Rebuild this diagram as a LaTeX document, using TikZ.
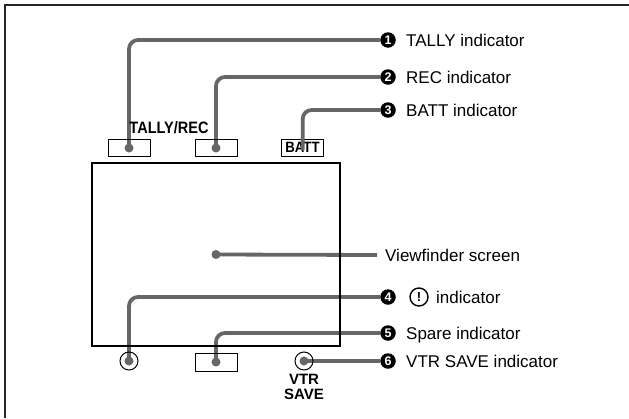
\documentclass[tikz,border=0pt]{standalone}
\usepackage{fontspec}
\setmainfont{Liberation Sans}
\newfontfamily\condbold[FakeStretch=0.88]{Liberation Sans Bold}
\usetikzlibrary{backgrounds}
\definecolor{leadgray}{HTML}{666666}
\begin{document}
\begin{tikzpicture}[x=1pt,y=-1pt,
  lead/.style={draw=leadgray, line width=3.8pt, rounded corners=9pt},
  tipdot/.style={circle, fill=leadgray, inner sep=0pt, minimum size=9pt},
  bul/.style={circle, fill=black, text=white, inner sep=0pt, minimum size=15.5pt, font=\bfseries\fontsize{12.5}{12.5}\selectfont},
  lbl/.style={anchor=west, inner sep=0pt, text height=12.2pt, text depth=0pt, font=\fontsize{17}{19}\selectfont},
  lampbox/.style={draw, line width=1pt, minimum width=42pt, minimum height=17pt, inner sep=0pt},
  lampring/.style={draw, circle, line width=1pt, minimum size=18pt, inner sep=0pt},
  tag/.style={font=\bfseries\fontsize{15}{15.5}\selectfont, inner sep=0pt}
]
\useasboundingbox (0,0) rectangle (629,418);
\draw[line width=1.7pt, draw=black!85] (5,418) -- (5,5) -- (629,5);

% screen and indicators
\node[draw, line width=1.4pt, minimum width=248pt, minimum height=183pt, inner sep=0pt] (screen) at (216,254.5) {};
\node[lampbox] (tallybox) at (129,148) {};
\node[lampbox] (recbox) at (216,148) {};
\node[lampbox, tag, font=\condbold\fontsize{15}{15}\selectfont] (battbox) at (302.5,147.5) {BATT};
\node[font=\condbold\fontsize{16.5}{17}\selectfont, inner sep=0pt] (tallyrec) at (169,128) {TALLY/REC};
\node[lampring] (ring4) at (129,361) {};
\node[lampbox, minimum height=18pt] (sparebox) at (216,362) {};
\node[lampring] (ring6) at (304,361) {};
\node[tag, align=center] (vtrsave) at (304,387) {VTR\\SAVE};

% dots
\node[tipdot] (d1) at (tallybox.center) {};
\node[tipdot] (d2) at (recbox.center) {};
\node[tipdot] (dscreen) at (screen.center) {};
\node[tipdot] (d4) at (ring4.center) {};
\node[tipdot] (d5) at (sparebox.center) {};
\node[tipdot] (d6) at (ring6.center) {};

% bullets and labels
\node[bul] (b1) at (388,40) {1};
\node[bul] (b2) at (388,77) {2};
\node[bul] (b3) at (388,110) {3};
\node[bul] (b4) at (388,297) {4};
\node[bul] (b5) at (388,333) {5};
\node[bul] (b6) at (388,361) {6};
\node[lbl] (l1) at (406,40) {TALLY indicator};
\node[lbl] (l2) at (406,77) {REC indicator};
\node[lbl] (l3) at (406,110) {BATT indicator};
\coordinate (vend) at (377,255);
\node[lbl] (lv) at (385,255) {Viewfinder screen};
\node[draw, circle, line width=1.4pt, minimum size=18pt, inner sep=0pt, font=\bfseries\fontsize{13}{13}\selectfont] (warn) at (419,297) {!};
\node[lbl] (l4) at (436,297) {indicator};
\node[lbl] (l5) at (406,333) {Spare indicator};
\node[lbl] (l6) at (406,361) {VTR SAVE indicator};

% leaders
\begin{pgfonlayer}{background}
\draw[lead] (d1.center) |- (b1.west);
\draw[lead] (d2.center) |- (b2.west);
\draw[lead] (dscreen.center) -- (vend);
\draw[lead] (d4.center) |- (b4.west);
\draw[lead] (d5.center) |- (b5.west);
\draw[lead] (d6.center) -- (b6.west);
\end{pgfonlayer}
\coordinate (battend) at (302.7,150);
\draw[lead] (battend) |- (b3.west);
\end{tikzpicture}
\end{document}
